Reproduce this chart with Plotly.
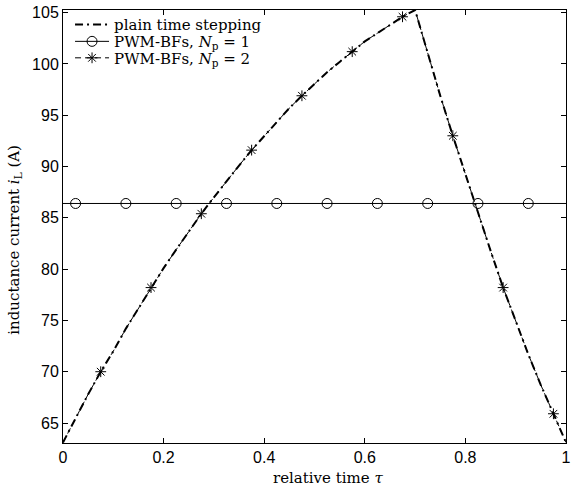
import plotly.graph_objects as go

# relative time grid and inductance current for plain time stepping
tau = [0.0, 0.025, 0.05, 0.075, 0.1, 0.125, 0.15, 0.175, 0.2, 0.225, 0.25,
       0.275, 0.3, 0.325, 0.35, 0.375, 0.4, 0.425, 0.45, 0.475, 0.5,
       0.525, 0.55, 0.575, 0.6, 0.625, 0.65, 0.675, 0.7, 0.725, 0.75,
       0.775, 0.8, 0.825, 0.85, 0.875, 0.9, 0.925, 0.95, 0.975, 1.0]
i_plain = [63.1, 65.5, 67.8, 70.0, 72.0, 74.2, 76.2, 78.2, 80.1, 81.9, 83.7,
           85.4, 87.0, 88.6, 90.1, 91.6, 93.0, 94.4, 95.7, 96.9, 98.1,
           99.2, 100.2, 101.2, 102.2, 103.0, 103.8, 104.6, 105.26, 101.0, 96.9,
           93.0, 89.2, 85.6, 81.8, 78.2, 74.9, 71.7, 68.7, 65.9, 63.1]

# PWM-BFs with Np = 2: curve and sampled points
i_np2 = i_plain
tau_np2_pts = [0.075, 0.175, 0.275, 0.375, 0.475, 0.575, 0.675, 0.775, 0.875, 0.975]
i_np2_pts = [70.0, 78.2, 85.4, 91.6, 96.9, 101.2, 104.6, 93.0, 78.2, 65.9]

# PWM-BFs with Np = 1: constant level and sampled points
tau_np1_line = [0.0, 1.0]
i_np1_level = 86.4
tau_np1_pts = [0.025, 0.125, 0.225, 0.325, 0.425, 0.525, 0.625, 0.725, 0.825, 0.925]

x_ticks = [0, 0.2, 0.4, 0.6, 0.8, 1]
x_ticktext = ["0", "0.2", "0.4", "0.6", "0.8", "1"]
y_ticks = [65, 70, 75, 80, 85, 90, 95, 100, 105]

serif = "DejaVu Serif"
sans = "Liberation Sans"
label_font = dict(family=serif, size=15, color="black")

dashdot = "8px,4px,2px,4px"
dashed = "6px,4px"

circle_marker = dict(symbol="circle-open", size=10, color="black", line=dict(width=1))
star_marker = dict(symbol="asterisk-open", size=9, color="black",
                   line=dict(width=1, color="black"))

fig = go.Figure()

# plain time stepping
fig.add_trace(go.Scatter(
    x=tau, y=i_plain, mode="lines",
    line=dict(color="black", width=2, dash=dashdot),
    name="plain time stepping", legend="legend"))

# Np = 1
fig.add_trace(go.Scatter(
    x=tau_np1_line, y=[i_np1_level] * len(tau_np1_line), mode="lines",
    line=dict(color="black", width=1), showlegend=False, hoverinfo="skip"))
fig.add_trace(go.Scatter(
    x=tau_np1_pts, y=[i_np1_level] * len(tau_np1_pts), mode="markers",
    marker=circle_marker, showlegend=False))
fig.add_trace(go.Scatter(
    x=[None], y=[None], mode="lines+markers",
    line=dict(color="black", width=1), marker=circle_marker,
    name="PWM-BFs, <i>N</i><sub>p</sub> = 1", legend="legend2"))

# Np = 2
fig.add_trace(go.Scatter(
    x=tau, y=i_np2, mode="lines",
    line=dict(color="black", width=1, dash=dashed),
    showlegend=False, hoverinfo="skip"))
fig.add_trace(go.Scatter(
    x=tau_np2_pts, y=i_np2_pts, mode="markers",
    marker=star_marker, showlegend=False))
fig.add_trace(go.Scatter(
    x=[None], y=[None], mode="lines+markers",
    line=dict(color="black", width=1, dash=dashed), marker=star_marker,
    name="PWM-BFs, <i>N</i><sub>p</sub> = 2", legend="legend3"))

axis_common = dict(
    showline=True, linecolor="black", linewidth=1, mirror="ticks",
    ticks="inside", ticklen=5, tickcolor="black", tickwidth=1,
    showgrid=False, zeroline=False,
    tickfont=dict(family=sans, size=16, color="black"),
)


def legend_row(y):
    return dict(x=0.014, y=y, xanchor="left", yanchor="middle",
                bgcolor="rgba(255,255,255,0)", borderwidth=0,
                font=label_font, itemwidth=34)


fig.update_layout(
    width=571, height=488,
    margin=dict(l=63, r=0, t=10, b=45),
    paper_bgcolor="white", plot_bgcolor="white",
    xaxis=dict(range=[0, 1], tickvals=x_ticks, ticktext=x_ticktext,
               ticklabeloverflow="allow", **axis_common),
    yaxis=dict(range=[63.05, 105.26], tickvals=y_ticks, **axis_common),
    legend=legend_row(0.966),
    legend2=legend_row(0.927),
    legend3=legend_row(0.889),
    showlegend=True,
    annotations=[
        dict(text="relative time <i>τ</i>", xref="paper", yref="paper",
             x=0.526, y=-0.081, xanchor="center", yanchor="middle",
             showarrow=False, font=label_font),
        dict(text="inductance current <i>i</i><sub>L</sub> (A)", xref="paper", yref="paper",
             x=-0.097, y=0.47, xanchor="center", yanchor="middle", textangle=-90,
             showarrow=False, font=label_font),
    ],
)

fig.write_html("out.html")
